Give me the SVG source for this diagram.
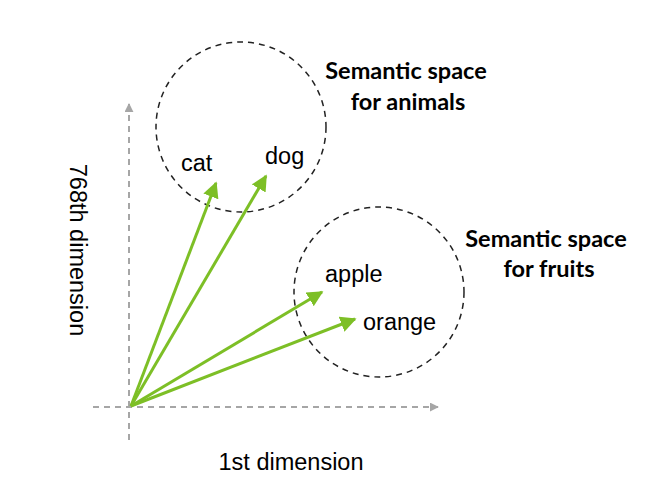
<svg xmlns="http://www.w3.org/2000/svg" width="666" height="501" viewBox="0 0 666 501">
<style>
.ax{stroke:#a6a6a6;stroke-width:2;stroke-dasharray:6,5;fill:none}
.cir{stroke:#222;stroke-width:1.5;stroke-dasharray:6,5;fill:none}
.vec{stroke:#7dbf26;stroke-width:3;fill:none}
.lbl{font-family:"Liberation Sans",Arial,sans-serif;font-size:23.5px;fill:#000}
.ttl{font-family:Lato,"Open Sans",sans-serif;font-weight:bold;font-size:23.5px;fill:#000;text-anchor:middle}
</style>
<defs>
<marker id="ga" viewBox="0 0 10 10" refX="9" refY="5" markerWidth="9" markerHeight="9" markerUnits="userSpaceOnUse" orient="auto"><path d="M0,0L10,5L0,10z" fill="#a6a6a6"/></marker>
<marker id="gr" viewBox="0 0 10 10" refX="9" refY="5" markerWidth="16" markerHeight="16" markerUnits="userSpaceOnUse" orient="auto"><path d="M0,0L10,5L0,10z" fill="#7dbf26"/></marker>
</defs>
<rect width="666" height="501" fill="#fff"/>
<g id="axes">
<line class="ax" x1="129" y1="440" x2="129" y2="104" marker-end="url(#ga)"/>
<line class="ax" x1="93" y1="407" x2="438" y2="407" marker-end="url(#ga)"/>
<text class="lbl" transform="translate(70,250) rotate(90)" text-anchor="middle">768th dimension</text>
<text class="lbl" x="291" y="470" text-anchor="middle">1st dimension</text>
</g>
<g id="animals">
<circle class="cir" cx="241" cy="127" r="85"/>
<text class="ttl" x="406" y="79">Semantic space</text>
<text class="ttl" x="408" y="110">for animals</text>
</g>
<g id="fruits">
<circle class="cir" cx="379" cy="292" r="85"/>
<text class="ttl" x="546" y="247">Semantic space</text>
<text class="ttl" x="549" y="277">for fruits</text>
</g>
<g id="cat"><text class="lbl" x="181" y="171">cat</text></g>
<g id="dog"><text class="lbl" x="265" y="164">dog</text></g>
<g id="apple"><text class="lbl" x="325" y="282">apple</text></g>
<g id="orange"><text class="lbl" x="363" y="330">orange</text></g>
<g id="connectors">
<line class="vec" x1="131" y1="406" x2="216" y2="183" marker-end="url(#gr)"/>
<line class="vec" x1="131" y1="406" x2="266" y2="176" marker-end="url(#gr)"/>
<line class="vec" x1="131" y1="406" x2="322" y2="292" marker-end="url(#gr)"/>
<line class="vec" x1="131" y1="406" x2="355" y2="319" marker-end="url(#gr)"/>
</g>
</svg>
